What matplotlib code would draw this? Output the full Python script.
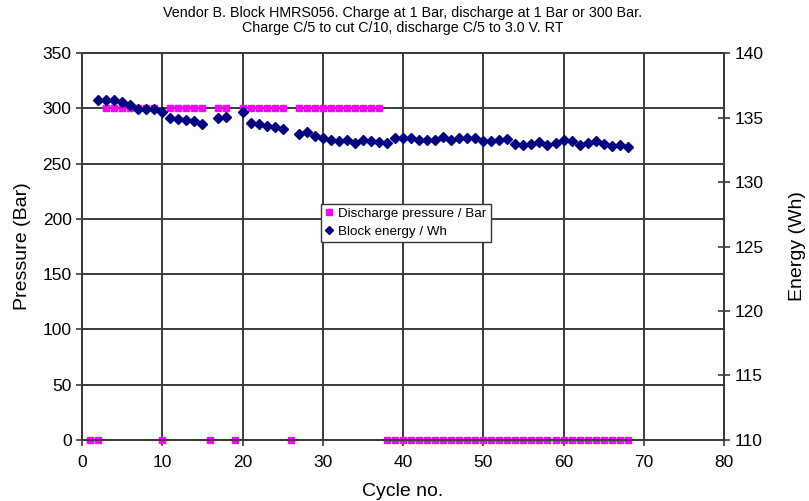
import matplotlib
matplotlib.use("Agg")
import matplotlib.pyplot as plt
from matplotlib.ticker import MultipleLocator

plt.rcParams['font.family'] = ['Liberation Sans', 'DejaVu Sans']

# Discharge pressure (Bar) per cycle
pressure_cycles = list(range(1, 69))
pressure_values = ([0, 0] + [300] * 7 + [0] + [300] * 5 + [0] + [300] * 2 + [0]
                   + [300] * 6 + [0] + [300] * 11 + [0] * 31)

# Block energy (Wh) per cycle
energy_cycles = [2, 3, 4, 5, 6, 7, 8, 9, 10, 11, 12, 13, 14, 15, 17, 18,
                 20, 21, 22, 23, 24, 25] + list(range(27, 69))
energy_values = [136.4, 136.4, 136.35, 136.2, 135.95, 135.65, 135.7, 135.65, 135.4,
                 135.0, 134.9, 134.85, 134.75, 134.5, 134.95, 135.05,
                 135.45, 134.6, 134.5, 134.35, 134.25, 134.1,
                 133.7, 133.85, 133.6, 133.45, 133.3, 133.2, 133.3, 133.0, 133.3, 133.2,
                 133.1, 133.05, 133.45, 133.45, 133.45, 133.25, 133.25, 133.25, 133.5,
                 133.25, 133.4, 133.4, 133.45, 133.2, 133.2, 133.25, 133.35, 132.95,
                 132.9, 132.95, 133.1, 132.85, 133.05, 133.25, 133.15, 132.9, 133.05,
                 133.2, 132.95, 132.8, 132.9, 132.75]

title = ("Vendor B. Block HMRS056. Charge at 1 Bar, discharge at 1 Bar or 300 Bar.\n"
         "Charge C/5 to cut C/10, discharge C/5 to 3.0 V. RT")

fig = plt.figure(figsize=(8.09, 5.01), dpi=100)
ax = fig.add_axes([0.1014, 0.1218, 0.7936, 0.7722])
ax2 = ax.twinx()

grid_color = '#3a3a3a'
ax.set_xlim(0, 80)
ax.set_ylim(0, 350)
ax.xaxis.set_major_locator(MultipleLocator(10))
ax.yaxis.set_major_locator(MultipleLocator(50))
ax.grid(True, color=grid_color, linewidth=1.4)
ax.set_axisbelow(True)

ax2.set_ylim(110, 140)
ax2.yaxis.set_major_locator(MultipleLocator(5))

for a in (ax, ax2):
    for s in a.spines.values():
        s.set_color(grid_color)
        s.set_linewidth(1.4)

l1, = ax.plot(pressure_cycles, pressure_values, linestyle='none', marker='s',
              markersize=5.0, color='#FF00FF', markeredgecolor='#FF00FF',
              label='Discharge pressure / Bar', clip_on=False, zorder=3)
l2, = ax2.plot(energy_cycles, energy_values, linestyle='none', marker='D',
               markersize=5.0, color='#000080', markeredgecolor='#000080',
               label='Block energy / Wh', zorder=3)

ax.tick_params(axis='both', labelsize=12.5, direction='out', length=4,
               color=grid_color, width=1.2)
ax.tick_params(axis='x', pad=7)
ax2.tick_params(axis='y', labelsize=12.5, direction='inout', length=8,
                color=grid_color, width=1.2)

ax.set_xlabel('Cycle no.', fontsize=14, labelpad=9)
ax.set_ylabel('Pressure (Bar)', fontsize=14, labelpad=8)
ax2.set_ylabel('Energy (Wh)', fontsize=14, labelpad=18)

fig.text(0.498, 0.988, title, ha='center', va='top', fontsize=10.3, linespacing=1.05)

leg = ax2.legend(handles=[l1, l2], loc='upper left', bbox_to_anchor=(0.362, 0.628),
                 fontsize=9.6, frameon=True, fancybox=False, framealpha=1,
                 edgecolor='#333333', handlelength=0.6, handletextpad=0.4,
                 borderpad=0.3, labelspacing=0.4, markerscale=0.9)
leg.get_frame().set_linewidth(1.0)

fig.savefig('out.png', dpi=100)
